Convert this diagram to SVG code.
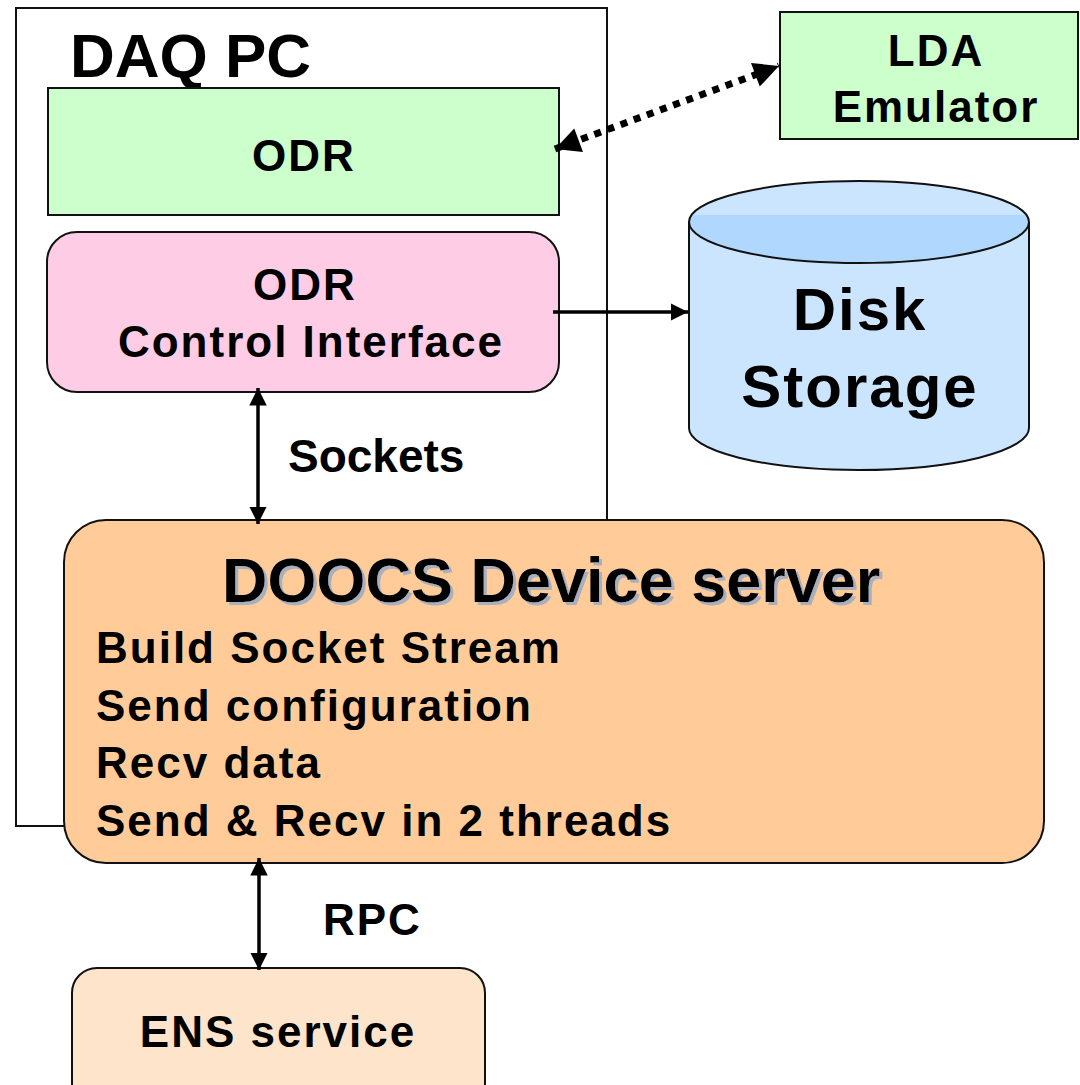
<svg xmlns="http://www.w3.org/2000/svg" width="1080" height="1085" viewBox="0 0 1080 1085">
<style>
text{font-family:"Liberation Sans",Arial,sans-serif;font-weight:bold;fill:#000}
.box{stroke:#111;stroke-width:2}
.lbl{font-size:44px;letter-spacing:2px}
.conn{stroke:#000;stroke-width:3.5;fill:none}
</style>
<defs>
<marker id="ah" viewBox="0 0 10 10" refX="10" refY="5" markerWidth="5" markerHeight="5" orient="auto-start-reverse" markerUnits="strokeWidth">
<path d="M0,0 L10,5 L0,10 z" fill="#000"/>
</marker>
<marker id="ahd" viewBox="0 0 10 10" refX="10" refY="5" markerWidth="3.8" markerHeight="3.6" orient="auto-start-reverse" markerUnits="strokeWidth">
<path d="M0,0 L10,5 L0,10 z" fill="#000"/>
</marker>
<filter id="shadow" x="-5%" y="-20%" width="110%" height="140%">
<feOffset in="SourceAlpha" dx="3" dy="3" result="off"/>
<feFlood flood-color="#A8B0C0"/>
<feComposite in2="off" operator="in" result="sh"/>
<feMerge><feMergeNode in="sh"/><feMergeNode in="SourceGraphic"/></feMerge>
</filter>
<clipPath id="topclip"><ellipse cx="859" cy="222" rx="170" ry="41"/></clipPath>
</defs>

<g id="daq-pc">
<rect x="16" y="8" width="591" height="818" fill="#fff" class="box"/>
<text x="70" y="77" font-size="62px">DAQ PC</text>
</g>

<g id="odr">
<rect x="48" y="88" width="511" height="127" fill="#CCFFCC" class="box"/>
<text x="304" y="171" class="lbl" text-anchor="middle">ODR</text>
</g>

<g id="odr-ci">
<rect x="47" y="232" width="512" height="160" rx="30" fill="#FFCCE5" class="box"/>
<text x="305" y="300" class="lbl" text-anchor="middle">ODR</text>
<text x="311" y="357" class="lbl" text-anchor="middle">Control Interface</text>
</g>

<g id="lda">
<rect x="780" y="12" width="298" height="127" fill="#CCFFCC" class="box"/>
<text x="936" y="66" class="lbl" text-anchor="middle">LDA</text>
<text x="936" y="122" class="lbl" text-anchor="middle">Emulator</text>
</g>

<g id="disk">
<path d="M689,222 L689,428 A170,42 0 0 0 1029,428 L1029,222" fill="#CCE5FF" class="box"/>
<ellipse cx="859" cy="222" rx="170" ry="41" fill="#B0D8FF"/>
<rect x="689" y="178" width="340" height="37" fill="#CCE5FF" clip-path="url(#topclip)"/>
<ellipse cx="859" cy="222" rx="170" ry="41" fill="none" class="box"/>
<text x="860" y="330" font-size="60px" letter-spacing="2px" text-anchor="middle">Disk</text>
<text x="860" y="407" font-size="60px" letter-spacing="2px" text-anchor="middle">Storage</text>
</g>

<g id="doocs">
<rect x="64" y="520" width="980" height="343" rx="42" fill="#FFCC99" class="box"/>
<text x="222" y="602" font-size="63px" filter="url(#shadow)">DOOCS Device server</text>
<text x="96" y="663" class="lbl">Build Socket Stream</text>
<text x="96" y="721" class="lbl">Send configuration</text>
<text x="96" y="778" class="lbl">Recv data</text>
<text x="96" y="836" class="lbl">Send &amp; Recv in 2 threads</text>
</g>

<g id="ens">
<rect x="72" y="968" width="413" height="140" rx="25" fill="#FFE4CC" class="box"/>
<text x="278" y="1047" class="lbl" text-anchor="middle">ENS service</text>
</g>

<g id="connectors">
<line x1="555" y1="149" x2="779" y2="66" stroke="#000" stroke-width="7" stroke-dasharray="7,7" marker-start="url(#ahd)" marker-end="url(#ahd)"/>
<line x1="553" y1="312" x2="688" y2="312" class="conn" stroke-width="4" marker-end="url(#ah)"/>
<line x1="258" y1="388" x2="258" y2="524" class="conn" marker-start="url(#ah)" marker-end="url(#ah)"/>
<line x1="259" y1="858" x2="259" y2="970" class="conn" marker-start="url(#ah)" marker-end="url(#ah)"/>
<text x="288" y="472" font-size="46px">Sockets</text>
<text x="323" y="935" class="lbl">RPC</text>
</g>
</svg>
